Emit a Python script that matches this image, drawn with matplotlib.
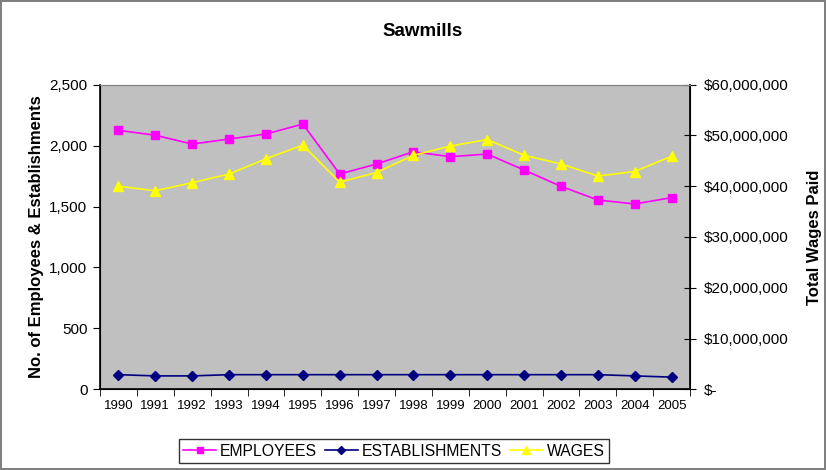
import matplotlib
matplotlib.use("Agg")
import matplotlib.pyplot as plt
from matplotlib.ticker import FuncFormatter

plt.rcParams['font.family'] = ['Liberation Sans', 'DejaVu Sans']

years = ['1990', '1991', '1992', '1993', '1994', '1995', '1996', '1997',
         '1998', '1999', '2000', '2001', '2002', '2003', '2004', '2005']
employees = [2126, 2085, 2013, 2054, 2095, 2177, 1767, 1849,
             1950, 1909, 1931, 1800, 1666, 1554, 1521, 1573]
establishments = [120, 110, 110, 120, 120, 120, 120, 120,
                  120, 120, 120, 120, 120, 120, 110, 100]
wages = [40.0e6, 39.1e6, 40.7e6, 42.4e6, 45.4e6, 48.1e6, 40.8e6, 42.7e6,
         46.1e6, 47.9e6, 49.2e6, 46.1e6, 44.4e6, 42.0e6, 42.9e6, 45.9e6]

fig = plt.figure(figsize=(8.26, 4.70), dpi=100)
fig.patch.set_edgecolor('#808080')
fig.patch.set_linewidth(1.5)

ax = fig.add_axes([100/826, 1 - 389.3/470, 590/826, 304.6/470])
ax.set_facecolor('#C0C0C0')
x = list(range(len(years)))

l1, = ax.plot(x, employees, color='#FF00FF', marker='s', markersize=6, lw=1.2,
              label='EMPLOYEES')
l2, = ax.plot(x, establishments, color='#000080', marker='D', markersize=5, lw=1.2,
              label='ESTABLISHMENTS')
ax.set_xlim(-0.5, len(years) - 0.5)
ax.set_ylim(0, 2500)
ax.set_yticks(range(0, 2501, 500))
ax.yaxis.set_major_formatter(FuncFormatter(lambda v, p: f'{int(v):,}'))
ax.set_xticks(x)
ax.set_xticklabels(years, fontsize=9.5)
ax.set_xticks([i - 0.5 for i in range(len(years) + 1)], minor=True)
ax.tick_params(axis='x', which='major', length=0, pad=8)
ax.tick_params(axis='x', which='minor', length=5, direction='out', color='black')
ax.tick_params(axis='y', length=5, direction='out', labelsize=11, pad=4)
ax.set_ylabel('No. of Employees & Establishments', fontsize=12, fontweight='bold',
              labelpad=4)
ax.spines['top'].set_color('#808080')
for s in ('left', 'bottom'):
    ax.spines[s].set_linewidth(1.2)

ax2 = ax.twinx()
l3, = ax2.plot(x, wages, color='#FFFF00', marker='^', markersize=7, lw=1.2,
               label='WAGES')
ax2.set_ylim(0, 60e6)
ax2.set_yticks([i * 10e6 for i in range(7)])
ax2.yaxis.set_major_formatter(
    FuncFormatter(lambda v, p: '$-' if v == 0 else f'${int(v):,}'))
ax2.tick_params(axis='y', length=8, direction='inout', labelsize=11, pad=6)
ax2.set_ylabel('Total Wages Paid', fontsize=12, fontweight='bold', labelpad=13)
ax2.spines['right'].set_linewidth(1.2)
ax2.spines['top'].set_color('#808080')

fig.text(422.5/826, 1 - 31/470, 'Sawmills', ha='center', va='center', fontsize=13.5,
         fontweight='bold')

leg = fig.legend(handles=[l1, l2, l3], loc='center', ncol=3,
                 bbox_to_anchor=(394/826, 1 - 451/470), fontsize=11.3,
                 frameon=True, fancybox=False, edgecolor='black',
                 handlelength=2.1, handletextpad=0.25, columnspacing=0.5,
                 borderpad=0.3, borderaxespad=0, markerscale=0.8)
leg.get_frame().set_linewidth(1.0)

fig.savefig('out.png', dpi=100, edgecolor=fig.get_edgecolor())
